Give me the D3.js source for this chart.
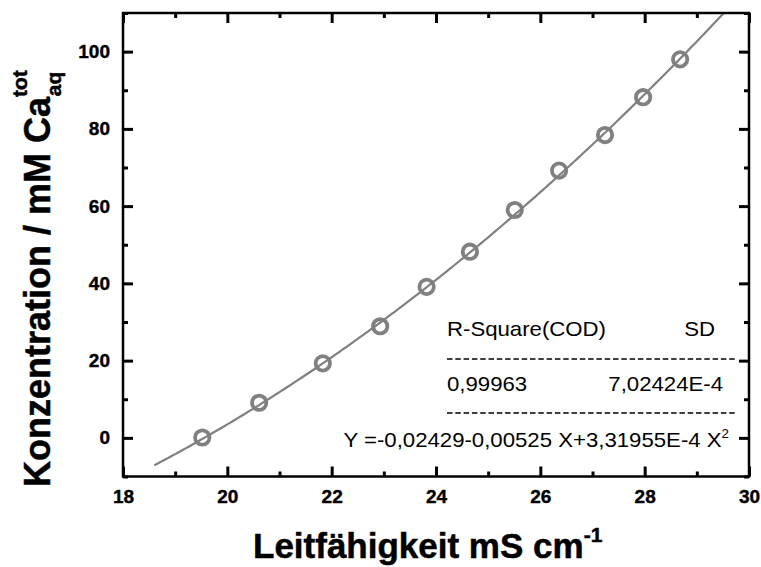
<!DOCTYPE html>
<html>
<head>
<meta charset="utf-8">
<script src="https://cdn.jsdelivr.net/npm/d3@7"></script>
<style>
  body { margin: 0; background: #fff; }
  text { font-family: "Liberation Sans", Arial, sans-serif; }
</style>
</head>
<body>
<div id="chart"></div>
<script>
// measured points: conductivity (mS/cm) vs total Ca concentration (mM)
const conductivity = [19.52, 20.61, 21.83, 22.93, 23.82, 24.65, 25.51, 26.36, 27.24, 27.97, 28.68];
const concentration = [0.1, 9.1, 19.3, 28.9, 39.1, 48.2, 59.0, 69.2, 78.4, 88.2, 98.0];

// quadratic fit as printed on the chart (Y in mol/L), drawn where the curve is visible
const fitCoef = [-0.02429, -0.00525, 3.31955e-4];
const fitRange = [18.6, 29.52];

// tick values
const xTicks = [18, 20, 22, 24, 26, 28, 30];
const xMinor = [19, 21, 23, 25, 27, 29];
const yTicks = [0, 20, 40, 60, 80, 100];
const yMinor = [-10, 10, 30, 50, 70, 90, 110];

// fit statistics table
const statHeader = ["R-Square(COD)", "SD"];
const statValues = ["0,99963", "7,02424E-4"];
const fitText = "Y =-0,02429-0,00525 X+3,31955E-4 X";

const width = 761, height = 567;
const margin = {left: 123, right: 12, top: 13, bottom: 90.5};
const plotW = width - margin.left - margin.right;
const plotH = height - margin.top - margin.bottom;
const grey = "#808080";
const stretch = 1.11;   //the original text is a bit wider than Arial

let svg = d3.select("#chart").append("svg")
            .attr("width", width)
            .attr("height", height);

let g = svg.append("g")
           .attr("transform", `translate(${margin.left},${margin.top})`);

let x = d3.scaleLinear().domain([18, 30]).range([0, plotW]);
let y = d3.scaleLinear().domain([-10, 110]).range([plotH, 0]);

//fit curve (coefficients in mol/L -> mM)
let fitX = d3.range(fitRange[0], fitRange[1], 0.05).concat([fitRange[1]]);
let fitLine = d3.line()
                .x(function(d) { return x(d) })
                .y(function(d) { return y(1000 * (fitCoef[0] + fitCoef[1] * d + fitCoef[2] * d * d)) });
g.append("path")
 .attr("d", fitLine(fitX))
 .attr("fill", "none")
 .attr("stroke", grey)
 .attr("stroke-width", 2.2);

//data points
g.selectAll("circle.pt").data(conductivity)
 .enter().append("circle")
 .attr("class", "pt")
 .attr("cx", function(d) { return x(d) })
 .attr("cy", function(d, i) { return y(concentration[i]) })
 .attr("r", 7.2)
 .attr("fill", "none")
 .attr("stroke", grey)
 .attr("stroke-width", 3.8);

//fit statistics box (text slightly stretched horizontally like the original)
let stats = svg.append("g").style("font-size", "20px").attr("fill", "#000");
function statText(px, py, anchor) {
  return stats.append("text")
              .attr("transform", `translate(${px},${py}) scale(${stretch},1)`)
              .attr("text-anchor", anchor);
}
statText(447, 336, "start").text(statHeader[0]);
statText(715, 336, "end").text(statHeader[1]);
statText(447, 391, "start").text(statValues[0]);
statText(723, 391, "end").text(statValues[1]);
[359, 413].forEach(function(yy) {
  stats.append("line")
       .attr("x1", 447).attr("x2", 735).attr("y1", yy).attr("y2", yy)
       .attr("stroke", "#000").attr("stroke-width", 1.5)
       .attr("stroke-dasharray", "5.5,2.8");
});
let eq = statText(729, 447, "end");
eq.append("tspan").text(fitText);
eq.append("tspan").attr("dy", -9).style("font-size", "12px").text("2");

//x axis title
let xTitle = svg.append("text")
                .attr("x", 253).attr("y", 558)
                .attr("stroke", "#000").attr("stroke-width", 0.5)
                .style("font-size", "35px").style("font-weight", "bold");
xTitle.append("tspan").text("Leitfähigkeit mS cm");
xTitle.append("tspan").attr("dy", -16).style("font-size", "21px").text("-1");

//y axis title
let yTitle = svg.append("text")
                .attr("transform", "translate(50,487) rotate(-90)")
                .attr("stroke", "#000").attr("stroke-width", 0.5)
                .style("font-size", "36px").style("font-weight", "bold");
yTitle.append("tspan").text("Konzentration / mM Ca");
yTitle.append("tspan").attr("dy", -23).style("font-size", "21px").text("tot");
yTitle.append("tspan").attr("dx", -26).attr("dy", 34).style("font-size", "21px").text("aq");

//axes last, so nothing covers them: major (labelled) + minor ticks, all inward
function styleAxis(sel) {
  sel.select(".domain").remove();
  sel.selectAll(".tick line").attr("stroke", "#000").attr("stroke-width", 3);
  sel.selectAll(".tick text")
     .attr("fill", "#000")
     .attr("stroke", "#000")
     .attr("stroke-width", 0.4)
     .style("font-size", "19px")
     .style("font-weight", "bold");
}

g.append("g").attr("transform", `translate(0,${plotH})`)
 .call(d3.axisBottom(x).tickValues(xTicks).tickSizeInner(-10).tickSizeOuter(0).tickPadding(13))
 .call(styleAxis);
g.append("g").attr("transform", `translate(0,${plotH})`)
 .call(d3.axisBottom(x).tickValues(xMinor).tickSizeInner(-5).tickSizeOuter(0).tickFormat(""))
 .call(styleAxis);
g.append("g")
 .call(d3.axisTop(x).tickValues(xTicks).tickSizeInner(-10).tickSizeOuter(0).tickFormat(""))
 .call(styleAxis);
g.append("g")
 .call(d3.axisTop(x).tickValues(xMinor).tickSizeInner(-5).tickSizeOuter(0).tickFormat(""))
 .call(styleAxis);

g.append("g")
 .call(d3.axisLeft(y).tickValues(yTicks).tickSizeInner(-10).tickSizeOuter(0).tickPadding(13))
 .call(styleAxis);
g.append("g")
 .call(d3.axisLeft(y).tickValues(yMinor).tickSizeInner(-5).tickSizeOuter(0).tickFormat(""))
 .call(styleAxis);
g.append("g").attr("transform", `translate(${plotW},0)`)
 .call(d3.axisRight(y).tickValues(yTicks).tickSizeInner(-10).tickSizeOuter(0).tickFormat(""))
 .call(styleAxis);
g.append("g").attr("transform", `translate(${plotW},0)`)
 .call(d3.axisRight(y).tickValues(yMinor).tickSizeInner(-5).tickSizeOuter(0).tickFormat(""))
 .call(styleAxis);

//frame
g.append("rect")
 .attr("width", plotW).attr("height", plotH)
 .attr("fill", "none").attr("stroke", "#000").attr("stroke-width", 2.5);
</script>
</body>
</html>
